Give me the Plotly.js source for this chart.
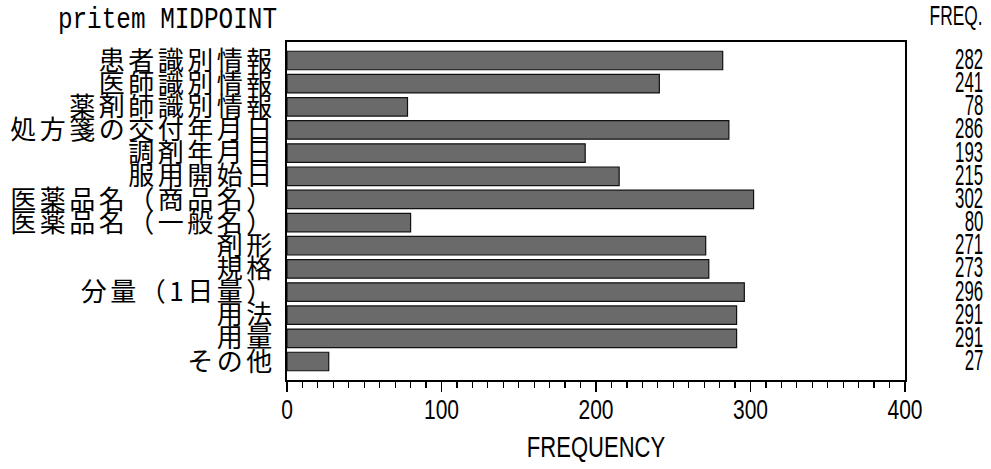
<!DOCTYPE html>
<html>
<head>
<meta charset="utf-8">
<script src="https://cdn.plot.ly/plotly-3.0.1.min.js"></script>
<style>
html,body{margin:0;padding:0;background:#fff;}
#chart{width:991px;height:469px;}
.ytick text{letter-spacing:3.5px !important;}
</style>
</head>
<body>
<div id="chart"></div>
<script>
const categories = ["患者識別情報","医師識別情報","薬剤師識別情報","処方箋の交付年月日","調剤年月日","服用開始日","医薬品名（商品名）","医薬品名（一般名）","剤形","規格","分量（1日量）","用法","用量","その他"];
const freqValues = [282,241,78,286,193,215,302,80,271,273,296,291,291,27];
const xTickValues = [0,100,200,300,400];
const xTickLabels = ["0","100","200","300","400"];

const latin = "Liberation Sans, Arial, sans-serif";
const mono = "Liberation Mono, DejaVu Sans Mono, monospace";
const cjk = "Noto Sans CJK JP, sans-serif";

const trace = {
  type: "bar",
  orientation: "h",
  y: categories,
  x: freqValues,
  marker: {color: "#6a6a6a", line: {color: "#111", width: 1.2}},
  hoverinfo: "skip"
};

const annotations = categories.map((c, i) => ({
  xref: "paper", yref: "y", x: 1.1295, y: c,
  text: String(freqValues[i]), showarrow: false,
  xanchor: "right", align: "right", yanchor: "middle",
  font: {family: latin, size: 30, color: "#000"}
}));
annotations.push({xref:"paper", yref:"paper", x:1.1295, y:1.078, text:"FREQ.", showarrow:false,
  xanchor:"right", align:"right", yanchor:"middle", font:{family: latin, size: 28, color:"#000"}});
annotations.push({xref:"paper", yref:"paper", x:-0.0135, y:1.063, text:"pritem MIDPOINT", showarrow:false,
  xanchor:"right", align:"right", yanchor:"middle", font:{family: mono, size: 29, color:"#000"}});

const layout = {
  width: 991, height: 469,
  margin: {l: 287, r: 86, t: 42, b: 89, pad: 0},
  paper_bgcolor: "#fff", plot_bgcolor: "#fff",
  showlegend: false,
  bargap: 0.2,
  xaxis: {
    range: [0, 400], tickmode: "array", tickvals: xTickValues, ticktext: xTickLabels,
    ticks: "outside", ticklen: 10, tickwidth: 1.5, tickcolor: "#000",
    minor: {dtick: 10, ticks: "outside", ticklen: 6, tickwidth: 1.2, tickcolor: "#000", showgrid: false},
    showgrid: false, zeroline: false,
    showline: true, mirror: true, linecolor: "#000", linewidth: 2,
    tickfont: {family: latin, size: 28, color: "#000"},
    title: {text: "FREQUENCY", font: {family: latin, size: 29, color: "#000"}},
    fixedrange: true
  },
  yaxis: {
    type: "category", categoryorder: "array", categoryarray: categories,
    tickmode: "array", tickvals: categories, ticktext: categories,
    autorange: "reversed",
    ticks: "", showgrid: false, zeroline: false,
    showline: true, mirror: true, linecolor: "#000", linewidth: 2,
    tickfont: {family: cjk, size: 26, color: "#000"},
    ticklabelstandoff: 4,
    fixedrange: true
  },
  annotations: annotations
};

function squeezeEl(t, s, dy) {
  const x = parseFloat(t.getAttribute("x") || 0);
  const tr = t.getAttribute("transform") || "";
  t.setAttribute("transform", tr + " translate(" + x + "," + (dy || 0) + ") scale(" + s + ",1) translate(" + (-x) + ",0)");
}

Plotly.newPlot("chart", [trace], layout, {staticPlot: true, displayModeBar: false}).then(() => {
  document.querySelectorAll(".xtick text").forEach(t => squeezeEl(t, 0.75, -7));
  document.querySelectorAll(".g-xtitle text").forEach(t => squeezeEl(t, 0.76, -6));
  document.querySelectorAll(".annotation-text").forEach(t => {
    const txt = t.textContent;
    let s = 0.56, dy = -2;
    if (txt === "pritem MIDPOINT") { s = 0.84; dy = 0; }
    else if (txt === "FREQ.") { s = 0.62; dy = 0; }
    squeezeEl(t, s, dy);
  });
});
</script>
</body>
</html>
